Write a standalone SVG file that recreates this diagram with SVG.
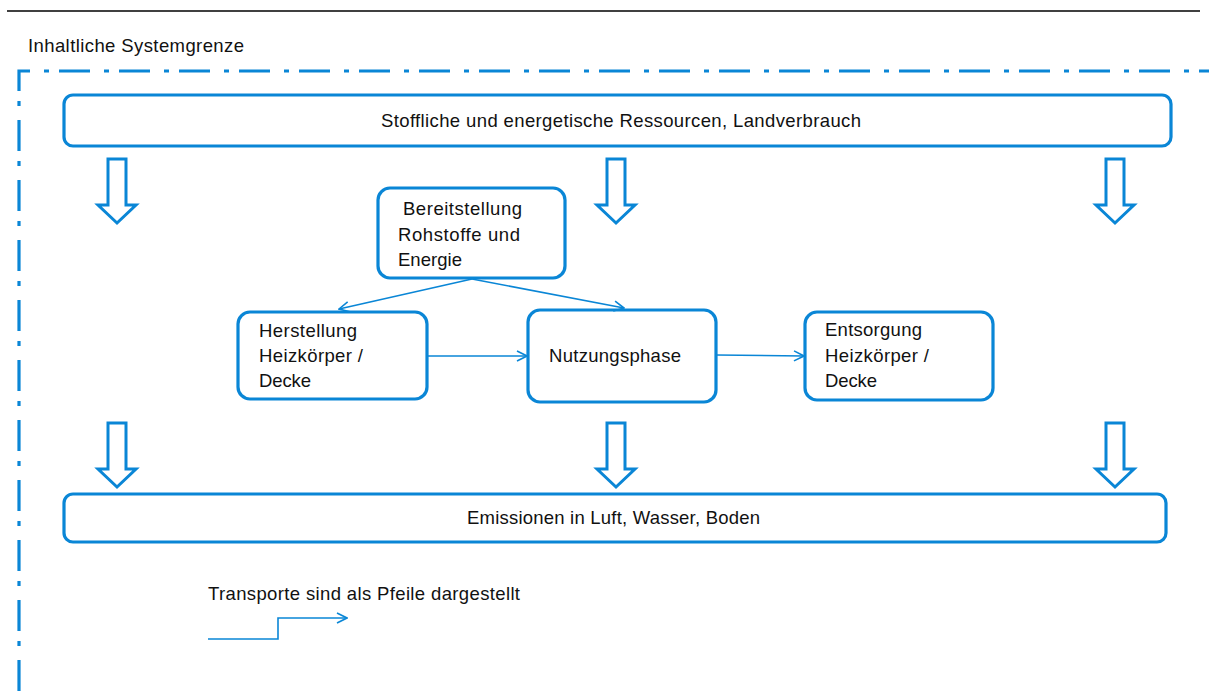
<svg xmlns="http://www.w3.org/2000/svg" width="1209" height="691" viewBox="0 0 1209 691">
<defs>
<style>
.t{font-family:"Liberation Sans",Arial,sans-serif;font-size:18.5px;fill:#111}
.box{fill:#fff;stroke:#0A86D6;stroke-width:3.2}
.blk{fill:#fff;stroke:#0A86D6;stroke-width:3;stroke-linejoin:miter}
.con{fill:none;stroke:#0A86D6;stroke-width:1.6}
.border{fill:none;stroke:#0A86D6;stroke-width:3.2;stroke-dasharray:31 14 5 10}
</style>
<marker id="ah" viewBox="0 0 12 12" refX="11" refY="6" markerWidth="12" markerHeight="12" markerUnits="userSpaceOnUse" orient="auto">
<path d="M1,1 L11,6 L1,11" fill="none" stroke="#0A86D6" stroke-width="1.6"/>
</marker>
<path id="barrow" d="M-9,0 H9 V46 H19 L0,64 L-19,46 H-9 Z"/>
</defs>
<rect width="1209" height="691" fill="#fff"/>
<line x1="7" y1="11" x2="1200" y2="11" stroke="#000" stroke-width="1.6"/>
<text class="t" x="28" y="52" textLength="216">Inhaltliche Systemgrenze</text>
<path class="border" d="M19,691 V71 H1209"/>

<g id="ressourcen">
<rect class="box" x="64" y="95" width="1107" height="51" rx="9"/>
<text class="t" x="381" y="127" textLength="480">Stoffliche und energetische Ressourcen, Landverbrauch</text>
</g>
<g id="emissionen">
<rect class="box" x="64" y="494" width="1102" height="48" rx="9"/>
<text class="t" x="467" y="524" textLength="293">Emissionen in Luft, Wasser, Boden</text>
</g>
<g id="bereitstellung">
<rect class="box" x="378" y="188" width="187" height="90" rx="12"/>
<text class="t" x="403" y="215" textLength="119">Bereitstellung</text>
<text class="t" x="398" y="241" textLength="122">Rohstoffe und</text>
<text class="t" x="398" y="266" textLength="64">Energie</text>
</g>
<g id="herstellung">
<rect class="box" x="238" y="312" width="189" height="87" rx="12"/>
<text class="t" x="259" y="337" textLength="98">Herstellung</text>
<text class="t" x="259" y="362" textLength="104">Heizkörper /</text>
<text class="t" x="259" y="387" textLength="52">Decke</text>
</g>
<g id="nutzung">
<rect class="box" x="528" y="310" width="188" height="92" rx="12"/>
<text class="t" x="549" y="362" textLength="132">Nutzungsphase</text>
</g>
<g id="entsorgung">
<rect class="box" x="805" y="312" width="188" height="88" rx="12"/>
<text class="t" x="825" y="336" textLength="97">Entsorgung</text>
<text class="t" x="825" y="362" textLength="104">Heizkörper /</text>
<text class="t" x="825" y="387" textLength="52">Decke</text>
</g>
<g id="blockarrows">
<use href="#barrow" class="blk" x="117" y="159"/>
<use href="#barrow" class="blk" x="616" y="159"/>
<use href="#barrow" class="blk" x="1115" y="159"/>
<use href="#barrow" class="blk" x="117" y="423"/>
<use href="#barrow" class="blk" x="616" y="423"/>
<use href="#barrow" class="blk" x="1115" y="423"/>
</g>
<g id="connectors">
<line class="con" x1="472" y1="279" x2="339" y2="309" marker-end="url(#ah)"/>
<line class="con" x1="472" y1="279" x2="624" y2="308" marker-end="url(#ah)"/>
<line class="con" x1="427" y1="356" x2="527" y2="356" marker-end="url(#ah)"/>
<line class="con" x1="716" y1="355" x2="804" y2="356" marker-end="url(#ah)"/>
</g>
<g id="legende">
<text class="t" x="208" y="600" textLength="312">Transporte sind als Pfeile dargestellt</text>
<path class="con" d="M208,639 H278 V618 H347" marker-end="url(#ah)"/>
</g>
</svg>
